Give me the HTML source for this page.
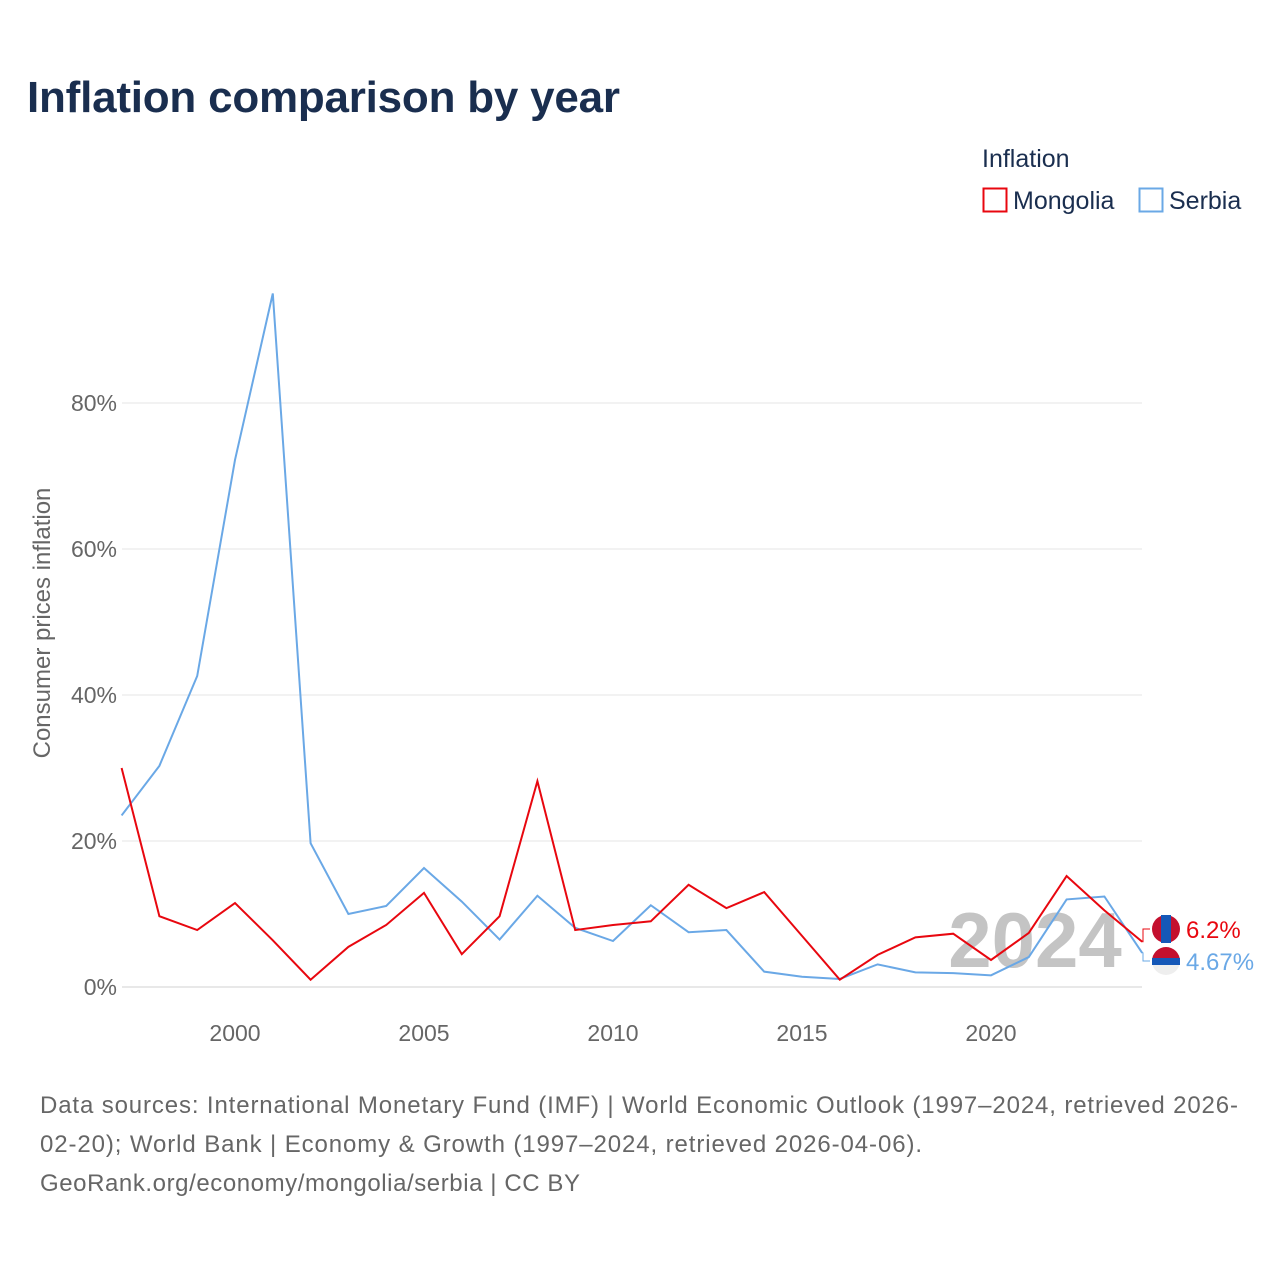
<!DOCTYPE html>
<html><head><meta charset="utf-8"><style>
body{margin:0;background:#fff;font-family:"Liberation Sans",sans-serif;}
#wrap{position:relative;width:1280px;height:1280px;overflow:hidden;}
</style></head><body>
<div id="wrap">
<svg id="svg" width="1280" height="1280" xmlns="http://www.w3.org/2000/svg" font-family="Liberation Sans, sans-serif">
<text x="27" y="112" font-size="44" font-weight="bold" fill="#1a2e4f" textLength="593">Inflation comparison by year</text>
<g>
<text x="982" y="167" font-size="25" fill="#1a2e4f">Inflation</text>
<g><rect x="983.5" y="188.5" width="23" height="23" fill="none" stroke="#e8070f" stroke-width="2"/><text x="1013" y="209" font-size="25" fill="#1a2e4f">Mongolia</text></g>
<g><rect x="1139.5" y="188.5" width="23" height="23" fill="none" stroke="#6aa8e6" stroke-width="2"/><text x="1169" y="209" font-size="25" fill="#1a2e4f">Serbia</text></g>
</g>
<text transform="translate(50,623) rotate(-90)" text-anchor="middle" font-size="24" fill="#666">Consumer prices inflation</text>
<g id="grid"></g><g id="xt"></g>
<text x="1035" y="967" text-anchor="middle" font-size="78" font-weight="bold" fill="#c4c4c4">2024</text>
<g id="series"></g><g id="ends"></g>
<g font-size="24" fill="#666">
<text x="40" y="1113" textLength="1198">Data sources: International Monetary Fund (IMF) | World Economic Outlook (1997–2024, retrieved 2026-</text>
<text x="40" y="1152" textLength="882">02-20); World Bank | Economy &amp; Growth (1997–2024, retrieved 2026-04-06).</text>
<text x="40" y="1191" textLength="540">GeoRank.org/economy/mongolia/serbia | CC BY</text></g>
</svg>
<script>
const years=[1997,1998,1999,2000,2001,2002,2003,2004,2005,2006,2007,2008,2009,2010,2011,2012,2013,2014,2015,2016,2017,2018,2019,2020,2021,2022,2023,2024];
const mongolia=[30.0,9.7,7.8,11.5,6.4,1.0,5.5,8.5,12.9,4.5,9.7,28.2,7.8,8.5,9.0,14.0,10.8,13.0,7.0,1.0,4.4,6.8,7.3,3.7,7.4,15.2,10.5,6.2];
const serbia=[23.5,30.3,42.6,72.2,95.0,19.7,10.0,11.1,16.3,11.7,6.5,12.5,8.1,6.3,11.2,7.5,7.8,2.1,1.4,1.1,3.1,2.0,1.9,1.6,4.1,12.0,12.4,4.67];
const yTicks=[0,20,40,60,80];
const xTicks=[2000,2005,2010,2015,2020];
const endLabels=["6.2%","4.67%"];
const X=v=>121.6+(v-1997)*37.8, Y=v=>987-v*7.3;
const NS="http://www.w3.org/2000/svg";
function mk(t,a,p){const e=document.createElementNS(NS,t);for(const k in a)e.setAttribute(k,a[k]);p.appendChild(e);return e;}
const g=document.getElementById('grid');
yTicks.forEach(t=>{const l=mk('line',{x1:122,x2:1142,y1:Y(t),y2:Y(t),stroke:t?'#e6e6e6':'#d0d0d0','stroke-width':1},g);


const tx=mk('text',{x:117,y:Y(t)+8,'text-anchor':'end','font-size':23,fill:'#666'},g);tx.textContent=t+'%';

});
const xt=document.getElementById('xt');
xTicks.forEach(t=>{const tx=mk('text',{x:X(t),y:1041,'text-anchor':'middle','font-size':23,fill:'#666'},xt);tx.textContent=t;

});
const s=document.getElementById('series');
[[serbia,'#6aa8e6','serbia-line'],[mongolia,'#e8070f','mongolia-line']].forEach(([d,c,n])=>{
const p=mk('polyline',{points:d.map((v,i)=>X(years[i])+','+Y(v)).join(' '),fill:'none',stroke:c,'stroke-width':2},s);

});
const e=document.getElementById('ends');
const last=years.length-1;
[[mongolia[last],929,'#e8070f',endLabels[0],'mongolia'],[serbia[last],961,'#6aa8e6',endLabels[1],'serbia']].forEach(([v,ly,c,lab,n])=>{
const yy=Y(v);
const pl=mk('polyline',{points:`${X(2024)},${yy} 1143,${yy} 1143,${ly} 1150,${ly}`,fill:'none',stroke:c,'stroke-width':1},e);


const ci=mk('circle',{cx:1166,cy:ly,r:14,fill:n=='mongolia'?'#c4102e':'#eee'},e);


if(n=='mongolia'){mk('rect',{x:1161,y:ly-14,width:10,height:28,fill:'#1558b8'},e);}
else{mk('path',{d:`M1152,${ly} A14,14 0 0 1 1180,${ly} Z`,fill:'#c4102e'},e);mk('rect',{x:1152,y:ly-3,width:28,height:7,fill:'#1558b8'},e);}
const t=mk('text',{x:1186,y:ly+9,'font-size':24,fill:c},e);t.textContent=lab;

});
</script>
</div></body></html>
